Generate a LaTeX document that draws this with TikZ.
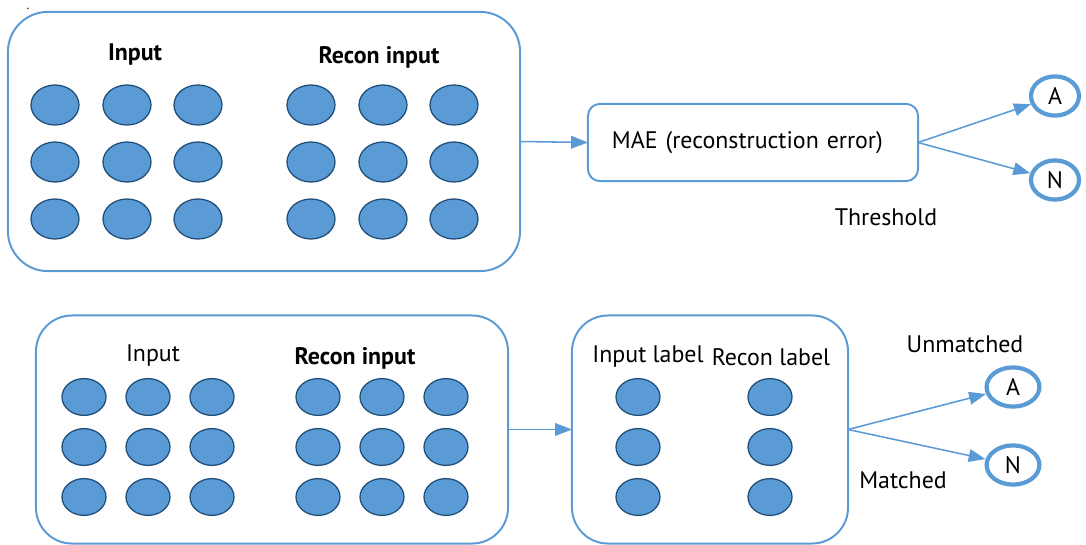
\documentclass[tikz,border=0pt]{standalone}
\usepackage{fontspec}
\setmainfont{PT Sans}
\usetikzlibrary{shapes.geometric}
\usetikzlibrary{positioning}
\usetikzlibrary{arrows.meta}
\definecolor{boxblue}{HTML}{5B9BD5}
\definecolor{rimblue}{HTML}{1F4E79}

\begin{document}
\begin{tikzpicture}[x=0.025cm, y=-0.025cm, font=\fontsize{17}{20}\selectfont,
    panel/.style={draw=boxblue, line width=1.4pt, inner sep=0pt, outer sep=0pt},
    neuron/.style={draw=rimblue, fill=boxblue, ellipse, line width=0.9pt, inner sep=0pt, minimum width=1.2cm, minimum height=1cm},
    smallneuron/.style={neuron, minimum width=1.1cm, minimum height=0.92cm},
    outnode/.style={draw=boxblue, ellipse, line width=3pt, inner sep=0pt},
    headline/.style={font=\fontsize{17}{20}\selectfont\bfseries},
    flow/.style={-{Triangle[length=12pt,width=9pt]}, draw=boxblue, line width=1.1pt}]
    \useasboundingbox (0,0) rectangle (1086,545);
    \node[font=\small, inner sep=0pt, anchor=base] (dot) at (28,10) {.};

    % top row: error score
    \node[panel, rounded corners=1cm, minimum width=12.8cm, minimum height=6.48cm] (topbox) at (264,141.5) {};
    \node[headline] (tinlbl) at (135,55) {Input};
    \node[headline] (trclbl) at (379,57) {Recon input};
    \foreach \c [count=\i] in {55,127,198} {
        \foreach \r [count=\j] in {105,162,219} {
            \node[neuron] (tin-\i-\j) at (\c,\r) {};
        }
    }
    \foreach \c [count=\i] in {311,383,454} {
        \foreach \r [count=\j] in {105,162,219} {
            \node[neuron] (trc-\i-\j) at (\c,\r) {};
        }
    }
    \node[panel, rounded corners=0.3cm, minimum width=8.25cm, minimum height=1.93cm, align=left, text width=7.05cm] (mae) at (753,142.5) {MAE (reconstruction error)};
    \node[outnode, minimum width=1.2cm, minimum height=0.98cm] (topA) at (1055,96) {A};
    \node[outnode, minimum width=1.2cm, minimum height=0.98cm] (topN) at (1055,180) {N};
    \node (thr) at (886,217) {Threshold};

    \draw[flow] (topbox.east) -- (mae.west);
    \draw[flow] (mae.east) -- (topA);
    \draw[flow] (mae.east) -- (topN);

    % bottom row: label match
    \node[panel, rounded corners=0.9cm, minimum width=11.8cm, minimum height=5.7cm] (inbox) at (272,429.5) {};
    \node (binlbl) at (153,356) {Input};
    \node[headline] (brclbl) at (355,358) {Recon input};
    \foreach \c [count=\i] in {84,148,212} {
        \foreach \r [count=\j] in {397,447,497} {
            \node[smallneuron] (bin-\i-\j) at (\c,\r) {};
        }
    }
    \foreach \c [count=\i] in {318,382,446} {
        \foreach \r [count=\j] in {397,447,497} {
            \node[smallneuron] (brc-\i-\j) at (\c,\r) {};
        }
    }
    \node[panel, rounded corners=0.9cm, minimum width=6.9cm, minimum height=5.7cm] (lblbox) at (710,429.5) {};
    \node (inlab) at (648,357) {Input label};
    \node (rclab) at (771,357) {Recon label};
    \foreach \r [count=\j] in {397,447,497} {
        \node[smallneuron] (ilab-\j) at (638,\r) {};
        \node[smallneuron] (rlab-\j) at (770,\r) {};
    }
    \node[outnode, minimum width=1.32cm, minimum height=0.98cm] (botA) at (1013,387) {A};
    \node[outnode, minimum width=1.32cm, minimum height=0.98cm] (botN) at (1013,465) {N};
    \node (unm) at (965,344) {Unmatched};
    \node (mat) at (903,480) {Matched};

    \draw[flow] (inbox.east) -- (lblbox.west);
    \draw[flow] (lblbox.east) -- (botA);
    \draw[flow] (lblbox.east) -- (botN);
\end{tikzpicture}
\end{document}
